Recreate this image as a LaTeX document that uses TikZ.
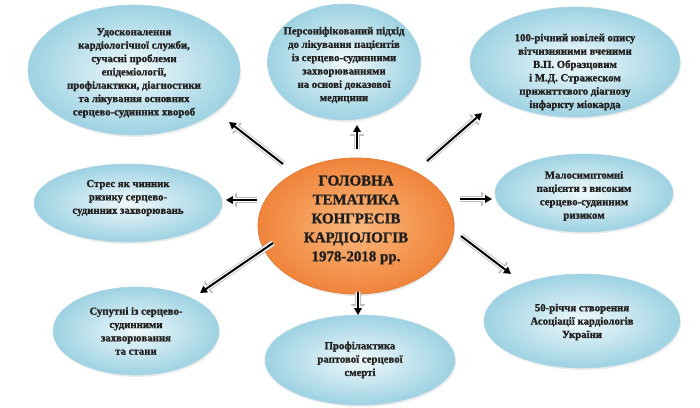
\documentclass[tikz,border=0pt]{standalone}
\usepackage{fontspec}
\setmainfont{Liberation Serif}[BoldFeatures={FakeBold=1.2}]
\usetikzlibrary{shapes.geometric,arrows.meta,shadows}
\definecolor{bluein}{RGB}{240,249,252}
\definecolor{blueout}{RGB}{158,210,226}
\definecolor{bluedraw}{RGB}{170,214,228}
\definecolor{orin}{RGB}{250,184,125}
\definecolor{orout}{RGB}{240,132,58}
\definecolor{ordraw}{RGB}{228,124,52}
\begin{document}
\begin{tikzpicture}[x=1bp,y=-1bp,
  bub/.style={ellipse, draw=bluedraw, line width=0.6pt, inner color=bluein, outer color=blueout, inner sep=0pt,
    drop shadow={opacity=0.15, shadow xshift=1pt, shadow yshift=-2pt}},
  hub/.style={ellipse, draw=ordraw, line width=0.8pt, inner color=orin, outer color=orout, inner sep=0pt,
    drop shadow={opacity=0.18, shadow xshift=1pt, shadow yshift=-2pt}},
  txt/.style={font=\bfseries\fontsize{10.8}{13.4}\selectfont, align=center, inner sep=0pt, text=black!88},
  bigtxt/.style={font=\bfseries\fontsize{15}{19}\selectfont, align=center, inner sep=0pt, text=black!88},
  arr/.style={
    preaction={draw=gray!50, line width=6.2pt, -{Triangle[length=11pt,width=14pt]}},
    preaction={draw=white, line width=4.4pt, -{Triangle[length=9pt,width=11.5pt]}},
    draw=black, line width=2pt, -{Triangle[length=7pt,width=7.5pt]}}
]
\useasboundingbox (0,0) rectangle (700,407);

% ellipses
\node[bub, minimum width=212bp, minimum height=130bp] (e1) at (134,70) {};
\node[bub, minimum width=153bp, minimum height=116bp] (e2) at (344,62) {};
\node[bub, minimum width=210bp, minimum height=110bp] (e3) at (575,62) {};
\node[bub, minimum width=188bp, minimum height=78bp] (e4) at (128,203) {};
\node[hub, minimum width=196bp, minimum height=136bp] (c) at (356,226) {};
\node[bub, minimum width=178bp, minimum height=78bp] (e5) at (584,193) {};
\node[bub, minimum width=166bp, minimum height=88bp] (e6) at (136,331) {};
\node[bub, minimum width=190bp, minimum height=90bp] (e7) at (360,360) {};
\node[bub, minimum width=196bp, minimum height=94bp] (e8) at (582,321) {};

% texts
\node[txt] (t1) at (134,73) {Удосконалення\\кардіологічної служби,\\сучасні проблеми\\епідеміології,\\профілактики, діагностики\\та лікування основних\\серцево-судинних хвороб};
\node[txt] (t2) at (344,65) {Персоніфікований підхід\\до лікування пацієнтів\\із серцево-судинними\\захворюваннями\\на основі доказової\\медицини};
\node[txt] (t3) at (575,72) {100-річний ювілей опису\\вітчизняними вченими\\В.П. Образцовим\\і М.Д. Стражеском\\прижиттєвого діагнозу\\інфаркту міокарда};
\node[txt] (t4) at (128,198) {Стрес як чинник\\ризику серцево-\\судинних захворювань};
\node[bigtxt] (tc) at (356,220) {ГОЛОВНА\\ТЕМАТИКА\\КОНГРЕСІВ\\КАРДІОЛОГІВ\\1978-2018 рр.};
\node[txt] (t5) at (584,196) {Малосимптомні\\пацієнти з високим\\серцево-судинним\\ризиком};
\node[txt] (t6) at (136,331) {Супутні із серцево-\\судинними\\захворювання\\та стани};
\node[txt] (t7) at (360,360) {Профілактика\\раптової серцевої\\смерті};
\node[txt] (t8) at (582,322) {50-річчя створення\\Асоціації кардіологів\\України};

% arrow coordinates
\coordinate (a1s) at (283,164); \coordinate (a1e) at (229,122);
\coordinate (a2s) at (357,149); \coordinate (a2e) at (357,125);
\coordinate (a3s) at (427,161); \coordinate (a3e) at (482,113);
\coordinate (a4s) at (257,200); \coordinate (a4e) at (226,200);
\coordinate (a5s) at (460,199); \coordinate (a5e) at (492,199);
\coordinate (a6s) at (273,243); \coordinate (a6e) at (200,293);
\coordinate (a7s) at (358,292); \coordinate (a7e) at (358,315);
\coordinate (a8s) at (461,236); \coordinate (a8e) at (511,274);

\draw[arr] (a1s) -- (a1e);
\draw[arr] (a2s) -- (a2e);
\draw[arr] (a3s) -- (a3e);
\draw[arr] (a4s) -- (a4e);
\draw[arr] (a5s) -- (a5e);
\draw[arr] (a6s) -- (a6e);
\draw[arr] (a7s) -- (a7e);
\draw[arr] (a8s) -- (a8e);
\end{tikzpicture}
\end{document}
